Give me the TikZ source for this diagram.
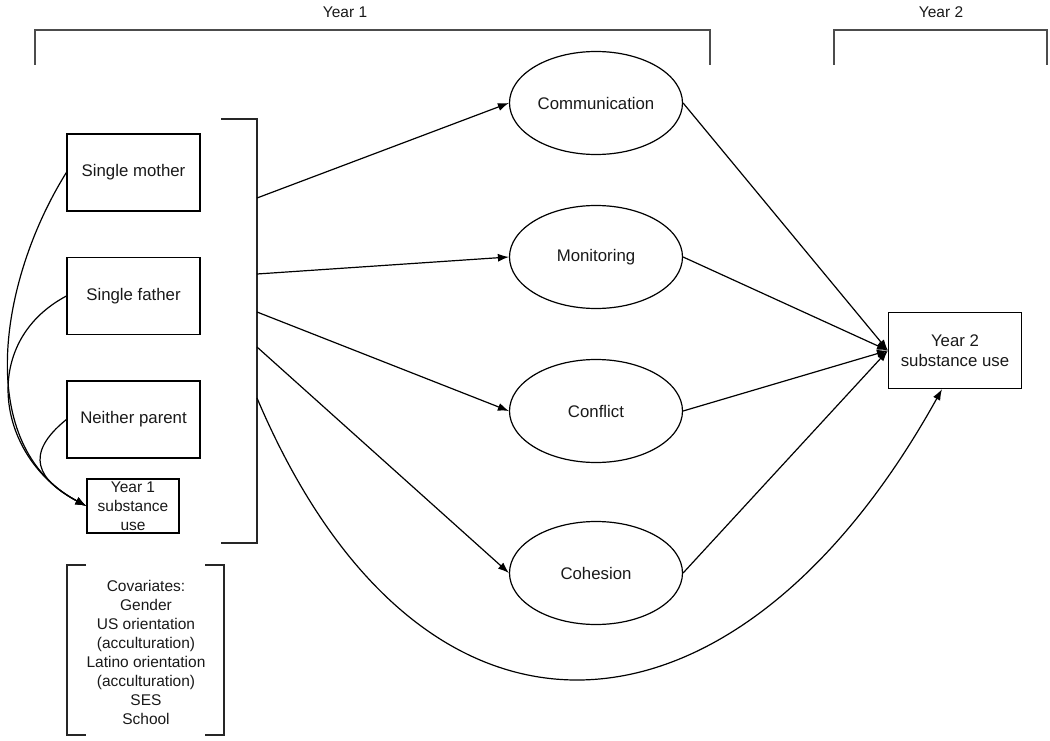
\documentclass[tikz,border=0pt]{standalone}
\usepackage{fontspec}
\setmainfont{Liberation Sans}
\usetikzlibrary{arrows.meta, shapes.geometric}

\begin{document}
\begin{tikzpicture}[x=1pt, y=1pt,
        every node/.style={font=\fontsize{15.5}{19}\selectfont, text=black!90},
        bigtext/.style={font=\fontsize{16.8}{20}\selectfont},
        varbox/.style={draw, bigtext, line width=1.2pt, minimum width=133, minimum height=77, inner sep=0},
        latent/.style={draw, bigtext, ellipse, line width=1.2pt, minimum width=173, minimum height=103, inner sep=0},
        path/.style={line width=1.2pt, -{Latex[length=11pt, width=8pt]}},
        bracket/.style={line width=1.3pt, black!85}]
            % Fix the page to the size of the picture
            \useasboundingbox (0,0) rectangle (1050,-741);

            % Draw the Year 1 and Year 2 brackets with their labels
            \node (year1) at (345,-12) {Year 1};
            \node (year2) at (941,-12) {Year 2};
            \draw[bracket, line width=1.6pt, black!70] (35,-65) -- (35,-30) -- (710,-30) -- (710,-65);
            \draw[bracket, line width=1.6pt, black!70] (834,-65) -- (834,-30) -- (1047,-30) -- (1047,-65);

            % Draw the family structure boxes
            \node[varbox] (mother) at (133.5,-172.5) {Single mother};
            \node[varbox] (father) at (133.5,-296) {Single father};
            \node[varbox] (neither) at (133.5,-419.5) {Neither parent};

            % Draw the Year 1 substance use box
            \node[varbox, font=\fontsize{15.5}{19}\selectfont, minimum width=92, minimum height=54, align=center]
                (sub1) at (133,-506) {Year 1\\substance\\use};

            % Draw the bracket round the predictors
            \draw[bracket] (221,-119) -- (257,-119) -- (257,-543) -- (221,-543);

            % Points on the bracket where the paths leave
            \coordinate (b1) at (257,-198);
            \coordinate (b2) at (257,-274);
            \coordinate (b3) at (257,-312);
            \coordinate (b4) at (257,-347);
            \coordinate (b5) at (257,-398);

            % Draw the covariates with their brackets
            \node[align=center] (covar) at (146,-652)
                {Covariates:\\Gender\\US orientation\\(acculturation)\\Latino orientation\\(acculturation)\\SES\\School};
            \draw[bracket] (86,-565) -- (67,-565) -- (67,-735) -- (86,-735);
            \draw[bracket] (205,-565) -- (224,-565) -- (224,-735) -- (205,-735);

            % Draw the family process ellipses
            \node[latent] (comm) at (596,-103) {Communication};
            \node[latent] (monit) at (596,-257) {Monitoring};
            \node[latent] (confl) at (596,-411) {Conflict};
            \node[latent] (cohes) at (596,-573) {Cohesion};

            % Draw the Year 2 substance use box
            \node[varbox, minimum width=133, minimum height=76, align=center] (sub2) at (955,-350.5)
                {Year 2\\substance use};

            % Curved paths from the family structure to Year 1 use
            \draw[path] (mother.west) to[out=238, in=152, looseness=0.98] (sub1.west);
            \draw[path] (father.west) to[out=208, in=152, looseness=1.22] (sub1.west);
            \draw[path] (neither.west) to[out=219, in=152, looseness=1.6] (sub1.west);

            % Paths from the bracket to the ellipses
            \draw[path] (b1) -- (comm.west);
            \draw[path] (b2) -- (monit.west);
            \draw[path] (b3) -- (confl.west);
            \draw[path] (b4) -- (cohes.west);

            % Paths from the ellipses to Year 2 use
            \draw[path] (comm.east) -- (sub2.west);
            \draw[path] (monit.east) -- (sub2.west);
            \draw[path] (confl.east) -- (sub2.west);
            \draw[path] (cohes.east) -- (sub2.west);

            % Direct path from the bracket to Year 2 use
            \coordinate (sub2in) at ([xshift=-13]sub2.south);
            \draw[path] (b5) to[out=-67, in=-119, looseness=1.58] (sub2in);
        \end{tikzpicture}
\end{document}
